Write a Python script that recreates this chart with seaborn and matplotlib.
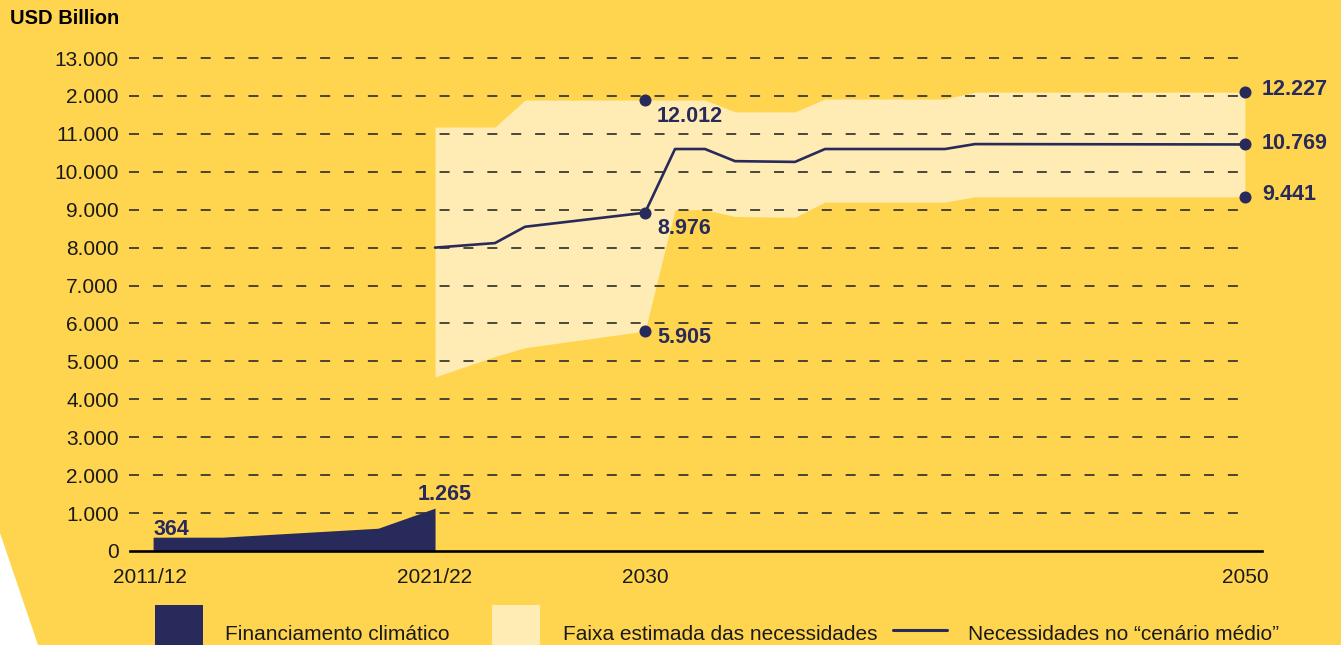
import matplotlib
matplotlib.use("Agg")
import matplotlib.pyplot as plt
from matplotlib.patches import Rectangle, Polygon
from matplotlib.lines import Line2D
import seaborn as sns
import pandas as pd

# Colours
BG = "#FFD44F"
BAND = "#FFEBB4"
NAVY = "#282A5C"

# Climate finance (positions on the chart's year axis; 2011/12 .. 2021/22)
fin_x = [2013.6, 2015.9, 2021.1, 2023.0]
fin_y = [364, 364, 600, 1130]

# Estimated range of needs and the "average scenario"
need_x = [2023, 2025, 2026, 2030, 2031, 2032, 2033, 2035, 2036, 2040, 2041, 2050]
need_low = [4590, 5130, 5360, 5800, 9000, 9000, 8820, 8800, 9200, 9200, 9340, 9340]
need_high = [11180, 11180, 11890, 11890, 11890, 11890, 11580, 11580, 11920, 11920, 12100, 12100]
need_mid = [8000, 8120, 8550, 8920, 10600, 10600, 10280, 10260, 10600, 10600, 10730, 10720]

y_ticks = list(range(0, 13001, 1000))
y_labels = ["0", "1.000", "2.000", "3.000", "4.000", "5.000", "6.000", "7.000",
            "8.000", "9.000", "10.000", "11.000", "2.000", "13.000"]
x_ticks = [2013.5, 2023, 2030, 2050]
x_labels = ["2011/12", "2021/22", "2030", "2050"]

sns.set_style("white")
plt.rcParams["font.family"] = ["Liberation Sans", "DejaVu Sans"]
plt.rcParams["lines.scale_dashes"] = False

W, H = 1341, 645
fig = plt.figure(figsize=(W / 100, H / 100), dpi=100, facecolor=BG)

# white corner bottom-left
fig.add_artist(Polygon([(0, 1 - 533 / H), (38 / W, 0), (0, 0)], closed=True,
                       transform=fig.transFigure, facecolor="white", edgecolor="none"))

ax = fig.add_axes([130 / W, (H - 551) / H, (1262 - 130) / W, 493 / H])
ax.set_facecolor("none")
ax.set_xlim(2012.83, 2050.57)
ax.set_ylim(0, 13000)

# band
ax.fill_between(need_x, need_low, need_high, color=BAND, linewidth=0, zorder=1)

# dashed gridlines
ax.hlines(y_ticks[1:], 2012.8, 2050.2, colors="#2b2b2b", linewidth=1.2,
          linestyles=[(0, (7.2, 10))], zorder=2, clip_on=False)

# finance area
ax.fill_between(fin_x, 0, fin_y, color=NAVY, linewidth=0, zorder=3)

# average scenario line
mid = pd.DataFrame({"x": need_x, "y": need_mid})
sns.lineplot(data=mid, x="x", y="y", ax=ax, color=NAVY, linewidth=1.9, zorder=4)

# dots
dots = pd.DataFrame({
    "x": [2030, 2030, 2030, 2050, 2050, 2050],
    "y": [need_high[3], need_mid[3], need_low[3], need_high[-1], need_mid[-1], need_low[-1]],
})
sns.scatterplot(data=dots, x="x", y="y", ax=ax, color=NAVY, s=75, linewidth=0, zorder=5)

labels = ["12.012", "8.976", "5.905", "12.227", "10.769", "9.441"]
offsets = [(12, -16), (12, -16), (12, -6), (17, 3), (17, 1), (17, 2)]
for (x, y), t, off in zip(dots[["x", "y"]].values, labels, offsets):
    ax.annotate(t, (x, y), xytext=off, textcoords="offset pixels", ha="left", va="center",
                fontsize=15.5, fontweight="bold", color=NAVY, zorder=6)

ax.annotate("364", (fin_x[0], fin_y[0]), xytext=(0, 8), textcoords="offset pixels",
            ha="left", va="center", fontsize=15.5, fontweight="bold", color=NAVY)
ax.annotate("1.265", (fin_x[-1], fin_y[-1]), xytext=(10, 14), textcoords="offset pixels",
            ha="center", va="center", fontsize=15.5, fontweight="bold", color=NAVY)

# axes styling
for s in ["top", "right", "left"]:
    ax.spines[s].set_visible(False)
ax.spines["bottom"].set_linewidth(1.9)
ax.spines["bottom"].set_color("black")
ax.spines["bottom"].set_zorder(6)
ax.set_yticks(y_ticks)
ax.set_yticklabels(y_labels)
ax.set_xticks(x_ticks)
ax.set_xticklabels(x_labels)
ax.tick_params(axis="y", length=0, pad=8, labelsize=15, labelcolor="#1a1a1a")
ax.tick_params(axis="x", length=0, pad=12, labelsize=15, labelcolor="#1a1a1a")
ax.set_xlabel("")
ax.set_ylabel("")
ax.grid(False)

fig.text(10 / W, 1 - 19 / H, "USD Billion", fontsize=14.5, fontweight="bold",
         ha="left", va="center", color="black")

# legend drawn at the bottom
fig.add_artist(Rectangle((155 / W, 0), 48 / W, 40 / H, transform=fig.transFigure,
                         facecolor=NAVY, edgecolor="none"))
fig.add_artist(Rectangle((492 / W, 0), 48 / W, 40 / H, transform=fig.transFigure,
                         facecolor=BAND, edgecolor="none"))
fig.add_artist(Line2D([893 / W, 947 / W], [1 - 630 / H, 1 - 630 / H],
                      transform=fig.transFigure, color=NAVY, linewidth=2.2))
for x0, t in [(225, "Financiamento climático"), (563, "Faixa estimada das necessidades"),
              (968, "Necessidades no “cenário médio”")]:
    fig.text(x0 / W, 1 - 634 / H, t, fontsize=15, ha="left", va="center", color="#1a1a1a")

fig.savefig("out.png", dpi=100, facecolor=BG)
